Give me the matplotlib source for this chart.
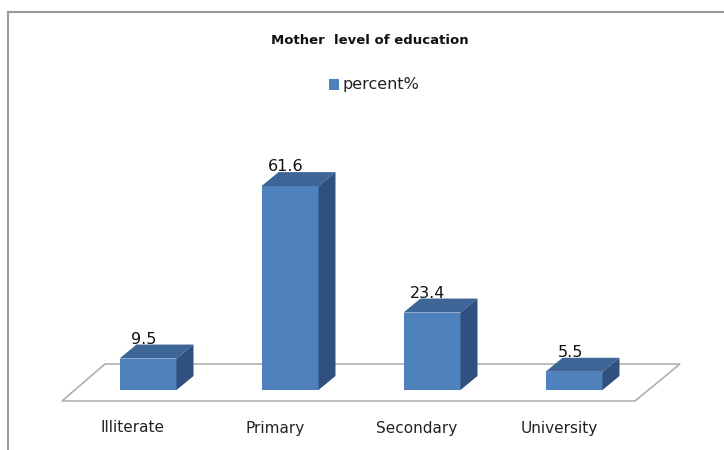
import matplotlib
matplotlib.use("Agg")
import matplotlib.pyplot as plt
from matplotlib.patches import Polygon

categories = ["Illiterate", "Primary", "Secondary", "University"]
percent = [9.5, 61.6, 23.4, 5.5]

front_c = "#4F81BD"
top_c = "#3D6597"
side_c = "#30517F"

W, H = 724, 450
fig = plt.figure(figsize=(W / 100, H / 100), dpi=100)
ax = fig.add_axes([0, 0, 1, 1])

# pixel mapping: x=0 -> 148px, 142px per category; y=0 -> 390px, 3.31px per unit
px_x, x0 = 142.0, 148.0
px_y, y0 = 3.31, 390.0
ax.set_xlim(-x0 / px_x, (W - x0) / px_x)
ax.set_ylim(-(H - y0) / px_y, y0 / px_y)
ax.axis("off")


def dx(p):
    return p / px_x


def dy(p):
    return p / px_y


# outer frame (grey lines at top and left)
fig.add_artist(plt.Line2D([8 / W, 8 / W], [0, 1 - 12 / H], color="#9a9a9a", lw=1.5))
fig.add_artist(plt.Line2D([8 / W, 1], [1 - 12 / H, 1 - 12 / H], color="#9a9a9a", lw=1.5))

# floor
fl = Polygon([(dx(62 - x0), dy(y0 - 401)), (dx(635 - x0), dy(y0 - 401)),
              (dx(680 - x0), dy(y0 - 364)), (dx(105 - x0), dy(y0 - 364))],
             closed=True, facecolor="white", edgecolor="#b0b0b0", lw=1.2, zorder=1)
ax.add_patch(fl)

bw = dx(57)
ddx, ddy = dx(17), dy(14)
xs = list(range(len(categories)))
ax.bar(xs, percent, width=bw, color=front_c, zorder=3)
for x, v in zip(xs, percent):
    l, r = x - bw / 2, x + bw / 2
    ax.add_patch(Polygon([(l, v), (r, v), (r + ddx, v + ddy), (l + ddx, v + ddy)],
                         closed=True, facecolor=top_c, edgecolor="none", zorder=3))
    ax.add_patch(Polygon([(r, 0), (r + ddx, ddy), (r + ddx, v + ddy), (r, v)],
                         closed=True, facecolor=side_c, edgecolor="none", zorder=3))
    ax.text(x - dx(4), v + ddy - dy(2), f"{v}", ha="center", va="bottom",
            fontsize=11.5, color="#111111", zorder=4)
    ax.text(x - dx(15), dy(y0 - 428), categories[x],
            ha="center", va="center", fontsize=11, color="#222222")

fig.text(370 / W, 1 - 40 / H, "Mother  level of education", ha="center", va="center",
         fontsize=9.5, fontweight="bold", color="#111111")
fig.patches.append(plt.Rectangle((329 / W, 1 - 90 / H), 10 / W, 11 / H,
                                 transform=fig.transFigure, facecolor=front_c,
                                 edgecolor="none", figure=fig))
fig.text(343 / W, 1 - 85 / H, "percent%", ha="left", va="center",
         fontsize=11.5, color="#222222")

fig.savefig("out.png", dpi=100)
